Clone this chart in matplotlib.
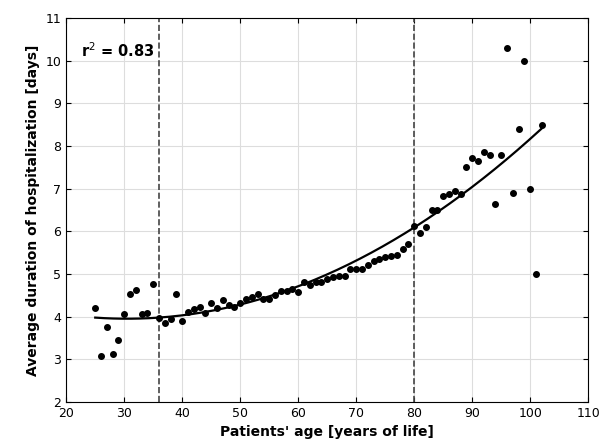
import numpy as np
import matplotlib.pyplot as plt

# ages and average hospitalization duration
age = np.arange(25, 103)
days = [4.2, 3.08, 3.75, 3.13, 3.45, 4.05, 4.52, 4.62, 4.05, 4.08,
        4.77, 3.97, 3.85, 3.95, 4.52, 3.9, 4.1, 4.18, 4.22, 4.08,
        4.32, 4.2, 4.38, 4.28, 4.22, 4.32, 4.42, 4.45, 4.52, 4.42,
        4.4, 4.5, 4.6, 4.6, 4.65, 4.58, 4.8, 4.75, 4.82, 4.82,
        4.88, 4.93, 4.95, 4.95, 5.12, 5.12, 5.12, 5.2, 5.3, 5.35,
        5.4, 5.42, 5.45, 5.58, 5.7, 6.12, 5.95, 6.1, 6.5, 6.5,
        6.82, 6.88, 6.95, 6.88, 7.5, 7.72, 7.65, 7.85, 7.8, 6.65,
        7.8, 10.3, 6.9, 8.4, 10.0, 7.0, 5.0, 8.5]
cutoffs = [36, 80]

coef = np.polyfit(age, days, 2)
xs = np.linspace(25, 102, 200)

fig = plt.figure(figsize=(6.02, 4.43), dpi=100)
ax = fig.add_axes([0.11, 0.093, 0.867, 0.866])
ax.grid(True, color='#dddddd', lw=0.8)
ax.set_axisbelow(True)
ax.scatter(age, days, s=16, color='black', zorder=3)
ax.plot(xs, np.polyval(coef, xs), color='black', lw=1.6, zorder=3)
for c in cutoffs:
    ax.axvline(c, color='#444444', ls='--', lw=1.2, zorder=2)
ax.text(22.5, 10.1, r'r$^2$ = 0.83', fontsize=10.5, fontweight='bold')

ax.set_xlim(20, 110)
ax.set_ylim(2, 11)
ax.set_xticks(range(20, 111, 10))
ax.set_yticks(range(2, 12))
ax.tick_params(labelsize=9, direction='in', right=True, top=True)
ax.set_xlabel("Patients' age [years of life]", fontsize=10, fontweight='bold')
ax.set_ylabel("Average duration of hospitalization [days]", fontsize=10, fontweight='bold')
fig.savefig('out.png', dpi=100)
